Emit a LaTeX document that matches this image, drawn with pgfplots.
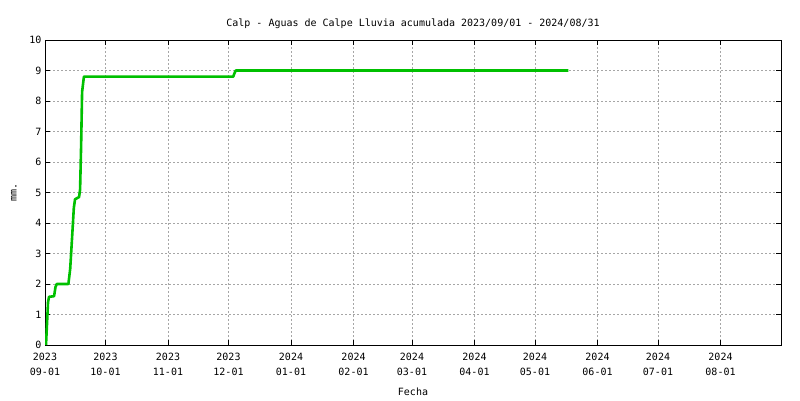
\documentclass[border=0pt]{standalone}
\usepackage{fontspec}
\setmainfont{DejaVu Sans Mono}
\usepackage{pgfplots}
\pgfplotsset{compat=1.18}
\begin{document}
\begin{tikzpicture}
\path[use as bounding box] (0,0) rectangle (800pt,400pt);
\begin{axis}[
  at={(45pt,55pt)}, anchor=south west,
  scale only axis, width=736pt, height=305pt,
  xmin=0, xmax=365, ymin=0, ymax=10,
  ytick={0,1,...,10},
  xtick={0,30,61,91,122,153,182,213,243,274,304,335},
  xticklabels={2023\\09-01,2023\\10-01,2023\\11-01,2023\\12-01,2024\\01-01,2024\\02-01,2024\\03-01,2024\\04-01,2024\\05-01,2024\\06-01,2024\\07-01,2024\\08-01},
  xticklabel style={align=center, font=\fontsize{10}{15}\selectfont, yshift=-5pt},
  yticklabel style={font=\fontsize{10}{11}\selectfont},
  /pgf/number format/assume math mode=true,
  tick align=inside,
  major tick length=5pt,
  tick style={black, line width=0.8pt},
  axis line style={black, line width=1pt},
  grid=major,
  major grid style={gray!70, dashed, dash pattern=on 2pt off 2pt, line width=0.6pt},
  title={Calp - Aguas de Calpe Lluvia acumulada 2023/09/01 - 2024/08/31},
  title style={font=\fontsize{10}{11}\selectfont, yshift=2pt},
  xlabel={Fecha},
  ylabel={mm.},
  label style={font=\fontsize{10}{11}\selectfont},
  xlabel style={yshift=-5pt},
  ylabel style={yshift=6pt},
]
\addplot[color={rgb,255:red,0;green,192;blue,0}, line width=2.6pt, line join=round] coordinates {
(0.5,0) (1.5,1.4) (2,1.58) (4.5,1.6) (5.2,1.9) (5.8,2.0) (11.6,2.0) (12.5,2.5) (13.5,3.6) (14.3,4.5) (14.9,4.78) (16.9,4.85) (17.4,5.1) (17.9,6.5) (18.4,8.3) (19.3,8.8)
(93.4,8.8) (93.9,8.9) (94.6,9.0) (259.6,9.0)
};
\end{axis}
\end{tikzpicture}
\end{document}
